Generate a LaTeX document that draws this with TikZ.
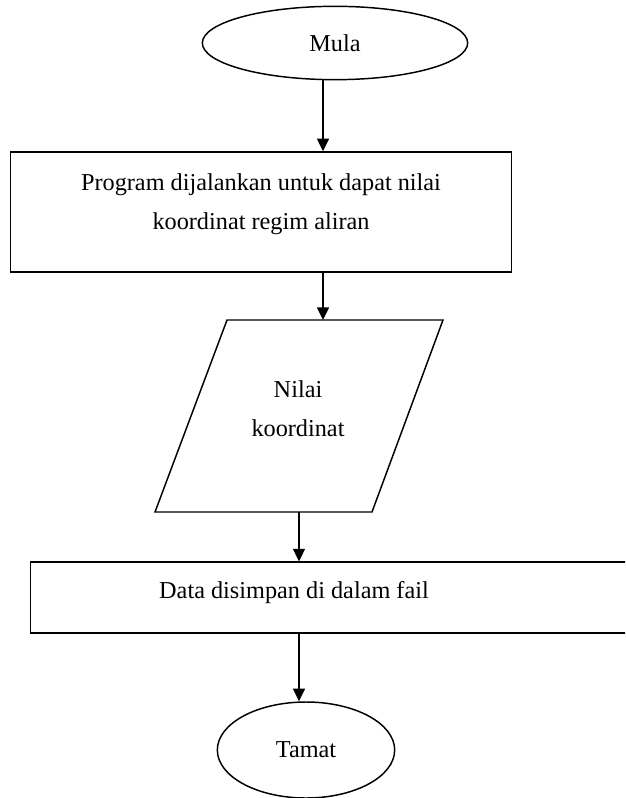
\documentclass[tikz,border=0pt]{standalone}
\usepackage{fontspec}
\setmainfont{Liberation Serif}
\usetikzlibrary{shapes.geometric,arrows.meta}
\begin{document}
\begin{tikzpicture}[x=0.75pt,y=-0.75pt,
  line width=1.1pt,
  every node/.style={font=\fontsize{18.2}{29}\selectfont},
  terminal/.style={draw,ellipse,inner sep=0pt},
  procbox/.style={draw,rectangle,inner sep=0pt},
  label text/.style={align=center,inner sep=0pt},
  arr/.style={-{Triangle[length=9.5pt,width=9pt]}}]
  \useasboundingbox (0,0) rectangle (625,798);
  \clip (0,0) rectangle (625,798);

  % start
  \node[terminal,minimum width=199pt,minimum height=55pt] (start) at (335,43) {Mula};

  % processing step
  \node[procbox,minimum width=376pt,minimum height=90pt] (box1) at (261,212) {};
  \node[label text] (t1) at (261,204) {Program dijalankan untuk dapat nilai\\koordinat regim aliran};

  % output data
  \coordinate (p1) at (227,320);
  \coordinate (p2) at (443,320);
  \coordinate (p3) at (372,512);
  \coordinate (p4) at (155,512);
  \draw (p1) -- (p2) -- (p3) -- (p4) -- cycle;
  \node[label text] (t2) at (298,409) {Nilai\\koordinat};

  % storage step
  \node[procbox,minimum width=457pt,minimum height=53pt] (box2) at (335,597.5) {};
  \node[label text] (t3) at (294,593) {Data disimpan di dalam fail};

  % end
  \node[terminal,minimum width=133pt,minimum height=72pt] (stop) at (306,750) {Tamat};

  % connectors
  \coordinate (c1) at (323,0);
  \coordinate (c2) at (299,0);
  \draw[arr] (start.south -| c1) -- (box1.north -| c1);
  \draw[arr] (box1.south -| c1) -- (c1 |- p1);
  \draw[arr] (c2 |- p4) -- (box2.north -| c2);
  \draw[arr] (box2.south -| c2) -- (stop.north -| c2);
\end{tikzpicture}
\end{document}
